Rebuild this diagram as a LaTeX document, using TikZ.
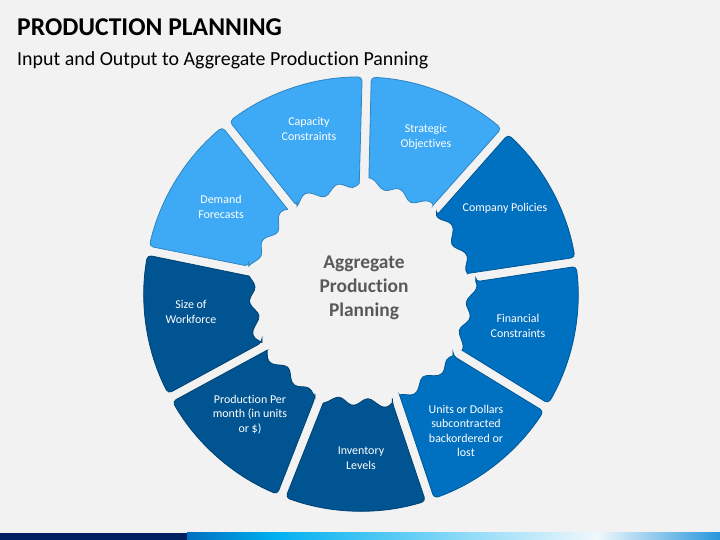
\documentclass[tikz,border=0pt]{standalone}
\usepackage{fontspec}
\setmainfont{Carlito}[Ligatures=NoCommon]

\definecolor{pagebg}{RGB}{242,242,242}
\definecolor{segLight}{RGB}{62,170,245}
\definecolor{segMid}{RGB}{0,112,192}
\definecolor{segDark}{RGB}{0,84,146}
\definecolor{hubgray}{RGB}{89,89,89}
\definecolor{barNavy}{RGB}{0,32,96}
\definecolor{barBlue}{RGB}{0,112,192}
\definecolor{barCyan}{RGB}{0,176,240}
\definecolor{barPale}{RGB}{240,248,252}
\definecolor{barEnd}{RGB}{40,150,220}

\tikzset{
  segtext/.style={text=white, align=center, font=\fontsize{12}{14.5}\selectfont},
  hubtext/.style={text=hubgray, align=center, font=\bfseries\fontsize{19.5}{24}\selectfont},
  declare function={rin(\t)=110+4*sin(22*\t)+2.5*sin(9*\t+30);}
}

\newcommand{\ringpart}[3]{%
  \filldraw[fill=#3, draw=#3!78!black, line width=0.8pt, rounded corners=4pt]
    ({#1+2.4}:{rin(#1+2.4)}) -- ({#1+1.2}:217)
    arc[start angle={#1+1.2}, end angle={#2-1.2}, radius=217]
    -- ({#2-2.4}:{rin(#2-2.4)}) [sharp corners]
    -- plot[smooth, samples=21, domain={#2-2.4}:{#1+2.4}] (\x:{rin(\x)}) -- cycle;
}

\begin{document}
\begin{tikzpicture}[x=1bp, y=1bp]
\useasboundingbox (0,0) rectangle (720,540);
\fill[pagebg] (0,0) rectangle (720,540);

\node[anchor=base west, inner sep=0pt, font=\bfseries\fontsize{25.7}{30}\selectfont] (title) at (17,504) {PRODUCTION PLANNING};
\node[anchor=base west, inner sep=0pt, font=\fontsize{20}{24}\selectfont] (subtitle) at (17,474) {Input and Output to Aggregate Production Panning};

\begin{scope}[shift={(361,246)}]
\ringpart{48.5}{88.5}{segLight}
\ringpart{88.5}{128.5}{segLight}
\ringpart{128.5}{168.5}{segLight}
\ringpart{-191.5}{-151.5}{segDark}
\ringpart{-151.5}{-111.5}{segDark}
\ringpart{-111.5}{-71.5}{segDark}
\ringpart{-71.5}{-31.5}{segMid}
\ringpart{-31.5}{8.5}{segMid}
\ringpart{8.5}{48.5}{segMid}
\end{scope}

\node[segtext] (capacity) at (309,411) {Capacity\\Constraints};
\node[segtext] (strategic) at (426,403) {Strategic\\Objectives};
\node[segtext] (demand) at (221,333) {Demand\\Forecasts};
\node[segtext] (company) at (505,332) {Company Policies};
\node[segtext] (workforce) at (191,228) {Size of\\Workforce};
\node[segtext] (financial) at (518,214) {Financial\\Constraints};
\node[segtext] (production) at (250,125.5) {Production Per\\month (in units\\or \$)};
\node[segtext] (inventory) at (361,82) {Inventory\\Levels};
\node[segtext] (units) at (466,109) {Units or Dollars\\subcontracted\\backordered or\\lost};
\node[hubtext] (hub) at (364,252) {Aggregate\\Production\\Planning};

\fill[barNavy] (0,0) rectangle (187,7);
\shade[left color=barBlue, right color=barCyan] (187,0) rectangle (276,7);
\shade[left color=barCyan, right color=barPale] (275.5,0) rectangle (597,7);
\shade[left color=barPale, right color=barEnd] (596.5,0) rectangle (720,7);
\end{tikzpicture}
\end{document}
